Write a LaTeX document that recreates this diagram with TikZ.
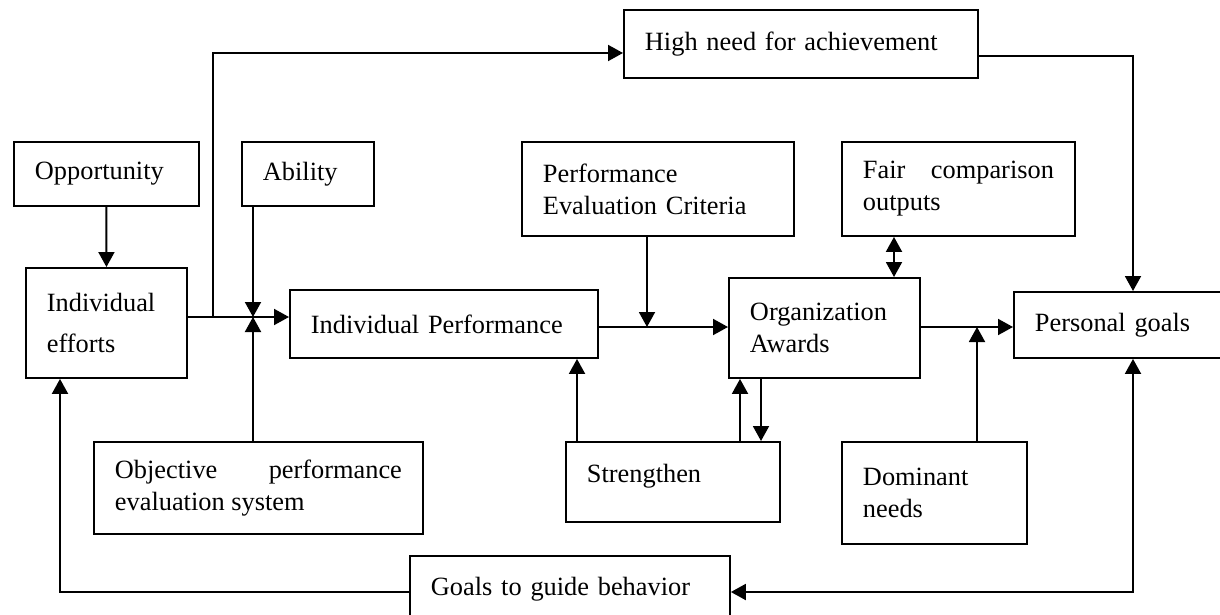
\documentclass[tikz,border=0pt]{standalone}
\usepackage{fontspec}
\setmainfont{Liberation Serif}
\usetikzlibrary{arrows.meta}

\begin{document}
\begin{tikzpicture}[x=0.02cm, y=-0.02cm, line width=1.1pt]
\tikzstyle{box}=[draw, rectangle, anchor=north west, inner xsep=0.42cm, inner ysep=0pt, align=left, font=\fontsize{15}{18.2}\selectfont]
\tikzstyle{arr}=[-{Triangle[length=0.3cm,width=0.32cm]}]
\tikzstyle{dbl}=[{Triangle[length=0.3cm,width=0.32cm]}-{Triangle[length=0.3cm,width=0.32cm]}]

\clip (0,0) rectangle (1220,615);

\node[box, text width=6.24cm, minimum height=1.36cm] (need) at (623,9) {High need for achievement};
\node[box, text width=2.86cm, minimum height=1.28cm] (opp) at (13,141) {Opportunity};
\node[box, text width=1.80cm, minimum height=1.28cm] (abil) at (241,141) {Ability};
\node[box, text width=4.60cm, minimum height=1.88cm] (crit) at (521,141) {Performance\\Evaluation Criteria};
\node[box, text width=3.82cm, minimum height=1.88cm, align=justify] (fair) at (841,141) {Fair comparison outputs};
\node[box, text width=2.38cm, minimum height=2.20cm] (eff) at (25,267) {Individual\\[5pt]efforts};
\node[box, text width=5.32cm, minimum height=1.36cm] (perf) at (289,289) {Individual Performance};
\node[box, text width=2.98cm, minimum height=2.00cm] (org) at (728,277) {Organization\\Awards};
\node[box, text width=4.36cm, minimum height=1.32cm] (pers) at (1013,291) {Personal goals};
\node[box, text width=5.74cm, minimum height=1.84cm, align=justify] (obj) at (93,441) {Objective performance evaluation system};
\node[box, text width=3.44cm, minimum height=1.60cm] (str) at (565,441) {Strengthen\\[-8pt]\mbox{}};
\node[box, text width=2.86cm, minimum height=2.04cm] (dom) at (841,441) {Dominant\\needs};
\node[box, text width=5.56cm, minimum height=1.32cm] (guide) at (409,555) {Goals to guide behavior};

\coordinate (j) at (253,317);
\coordinate (b) at (213,317);
\coordinate (t) at (213,53);
\coordinate (c) at (1133,56);
\coordinate (k) at (647,327);
\coordinate (m) at (977,327);
\coordinate (f) at (894,0);
\coordinate (s1) at (577,0);
\coordinate (s2) at (740,0);
\coordinate (s3) at (761,0);
\coordinate (g) at (1133,592);
\coordinate (h) at (60,592);

\draw[arr] (opp) -- (eff);
\draw[arr] (abil.south -| j) -- (j);
\draw[arr] (obj.north -| j) -- (j);
\draw[arr] (eff.east |- j) -- (perf.west |- j);
\draw[arr] (b) -- (t) -- (t -| need.west);
\draw[arr] (c -| need.east) -- (c) -- (pers.north -| c);
\draw[arr] (crit.south -| k) -- (k);
\draw[arr] (perf.east |- k) -- (org.west |- k);
\draw[arr] (org.east |- k) -- (pers.west |- k);
\draw[arr] (dom.north -| m) -- (m);
\draw[dbl] (fair.south -| f) -- (org.north -| f);
\draw[arr] (str.north -| s1) -- (perf.south -| s1);
\draw[arr] (str.north -| s2) -- (org.south -| s2);
\draw[arr] (org.south -| s3) -- (str.north -| s3);
\draw[dbl] (pers.south -| g) -- (g) -- (guide.east |- g);
\draw[arr] (guide.west |- h) -- (h) -- (eff.south -| h);
\end{tikzpicture}
\end{document}
